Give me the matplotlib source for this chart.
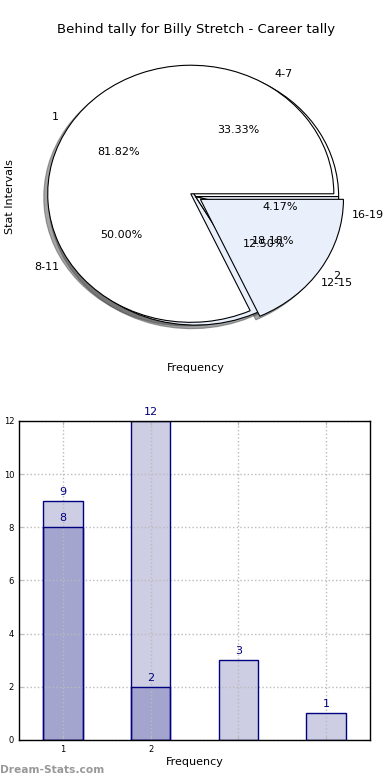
import matplotlib
matplotlib.use("Agg")
import matplotlib.pyplot as plt

title = "Behind tally for Billy Stretch - Career tally"
outer_labels = ["4-7", "8-11", "12-15", "16-19"]
outer_values = [8, 12, 3, 1]
inner_labels = ["1", "2"]
inner_values = [9, 2]

bar_positions = [1, 2, 3, 4]
light_values = [9, 12, 3, 1]
dark_positions = [1, 2]
dark_values = [8, 2]
xtick_labels = ["1", "2", "", ""]

LIGHT_BLUE = "#eaf0fb"
BAR_LIGHT = "#cdcde4"
BAR_DARK = "#a3a5cf"
NAVY = "#000080"

fig = plt.figure(figsize=(3.9, 7.8), dpi=100)

# ---- Pie chart ----
ax1 = fig.add_axes([0.043, 0.542, 0.917, 0.412])
ax1.pie(outer_values, labels=outer_labels, autopct="%.2f%%", startangle=0,
        colors=["white", LIGHT_BLUE, "white", LIGHT_BLUE], shadow=True,
        wedgeprops=dict(edgecolor="black", linewidth=0.8),
        textprops=dict(fontsize=8))
ax1.pie(inner_values, labels=inner_labels, autopct="%.2f%%", startangle=0,
        colors=["white", LIGHT_BLUE], shadow=True, explode=[0.04, 0.04],
        wedgeprops=dict(edgecolor="black", linewidth=0.8),
        textprops=dict(fontsize=8))
ax1.set_aspect("auto")
ax1.set_xlim(-1.25, 1.25)
ax1.set_ylim(-1.25, 1.25)
ax1.set_title(title, fontsize=9.5, pad=1)
ax1.set_ylabel("Stat Intervals", fontsize=8)
ax1.yaxis.set_label_coords(-0.005, 0.5)
ax1.set_xlabel("Frequency", fontsize=8)

# ---- Bar chart ----
ax2 = fig.add_axes([0.0487, 0.0513, 0.9, 0.409])
# fills (below grid)
ax2.bar(bar_positions, light_values, width=0.45, color=BAR_LIGHT,
        edgecolor="none", zorder=1)
ax2.bar(dark_positions, dark_values, width=0.45, color=BAR_DARK,
        edgecolor="none", zorder=1.1)
# edges (above grid)
ax2.bar(bar_positions, light_values, width=0.45, facecolor="none",
        edgecolor=NAVY, linewidth=1.0, zorder=3)
ax2.bar(dark_positions, dark_values, width=0.45, facecolor="none",
        edgecolor=NAVY, linewidth=1.0, zorder=3)
for x, v in zip(bar_positions, light_values):
    ax2.text(x, v + 0.15, str(v), ha="center", va="bottom", color=NAVY, fontsize=8)
for x, v in zip(dark_positions, dark_values):
    ax2.text(x, v + 0.15, str(v), ha="center", va="bottom", color=NAVY, fontsize=8)
ax2.set_xlim(0.5, 4.5)
ax2.set_ylim(0, 12)
ax2.set_yticks(range(0, 13, 2))
ax2.set_xticks(bar_positions)
ax2.set_xticklabels(xtick_labels)
ax2.tick_params(labelsize=6, direction="in", length=3, color="#bbbbbb",
                top=True, right=True)
ax2.grid(True, linestyle=":", color="#bbbbbb", linewidth=1.0, zorder=2)
ax2.xaxis.get_gridlines()
for gl in ax2.get_xgridlines() + ax2.get_ygridlines():
    gl.set_zorder(2)
ax2.set_xlabel("Frequency", fontsize=8, labelpad=2)
for s in ax2.spines.values():
    s.set_color("black")
    s.set_linewidth(1.0)
    s.set_zorder(5)

fig.text(0.0, 0.013, "Dream-Stats.com", fontsize=7.7, color="#999999",
         fontweight="bold", ha="left", va="center")

fig.savefig("out.png", dpi=100)
